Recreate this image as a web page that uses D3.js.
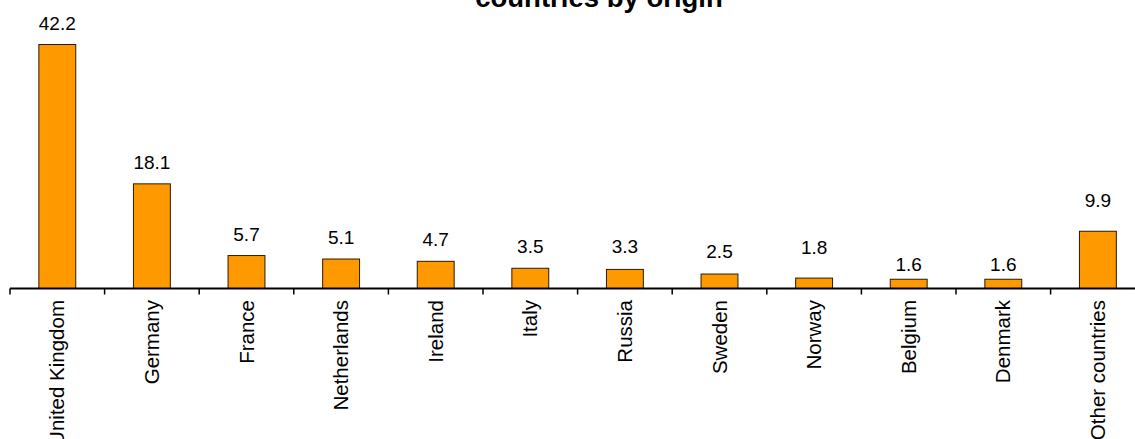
<!DOCTYPE html>
<html>
<head>
<meta charset="utf-8">
<script src="https://cdn.jsdelivr.net/npm/d3@7"></script>
<style>
  body { margin: 0; background: #fff; }
  svg { display: block; font-family: "Liberation Sans", Arial, sans-serif; }
</style>
</head>
<body>
<div id="content"></div>
<script>
// chart values
const countries = ["United Kingdom", "Germany", "France", "Netherlands", "Ireland", "Italy",
  "Russia", "Sweden", "Norway", "Belgium", "Denmark", "Other countries"];
const shares = [42.2, 18.1, 5.7, 5.1, 4.7, 3.5, 3.3, 2.5, 1.8, 1.6, 1.6, 9.9];
const titleText = "countries by origin";

// how far each value label sits above its bar (px), as placed in the original
const labelLift = [15, 15, 15, 15, 15, 15, 16, 16, 24, 8, 8, 24];

const width = 1135;
const height = 439;
const axisY = 288.5;
const left = 10;
const step = 94.6;

const svg = d3.select("#content")
  .append("svg")
  .attr("width", width)
  .attr("height", height);

const x = d3.scaleBand()
  .domain(countries)
  .range([left, left + step * countries.length])
  .paddingInner(0.61)
  .paddingOuter(0.305);

const y = d3.scaleLinear()
  .domain([0, 42.2])
  .range([axisY, 44.5]);

// title (only its last line is inside the view, as in the original)
svg.append("text")
  .attr("x", 599)
  .attr("y", 6.5)
  .attr("text-anchor", "middle")
  .attr("font-size", "27.5px")
  .attr("font-weight", "bold")
  .attr("fill", "#000")
  .text(titleText);

// bars
svg.selectAll("rect.bar")
  .data(shares)
  .enter()
  .append("rect")
  .attr("class", "bar")
  .attr("x", (d, i) => x(countries[i]))
  .attr("y", d => y(d))
  .attr("width", x.bandwidth())
  .attr("height", d => axisY - y(d))
  .attr("fill", "#FF9900")
  .attr("stroke", "#2a1a00")
  .attr("stroke-width", 1);

// value labels
svg.selectAll("text.label")
  .data(shares)
  .enter()
  .append("text")
  .attr("class", "label")
  .attr("x", (d, i) => x(countries[i]) + x.bandwidth() / 2)
  .attr("y", (d, i) => y(d) - labelLift[i])
  .attr("text-anchor", "middle")
  .attr("font-size", "19px")
  .attr("fill", "#000")
  .text(d => d.toFixed(1));

// x axis line + ticks at the band edges
const gap = (x.step() - x.bandwidth()) / 2;
svg.append("line")
  .attr("x1", left)
  .attr("x2", width + 20)
  .attr("y1", axisY)
  .attr("y2", axisY)
  .attr("stroke", "#000")
  .attr("stroke-width", 2);

svg.selectAll("line.tick")
  .data(countries)
  .enter()
  .append("line")
  .attr("class", "tick")
  .attr("x1", d => x(d) - gap)
  .attr("x2", d => x(d) - gap)
  .attr("y1", axisY)
  .attr("y2", axisY + 6)
  .attr("stroke", "#000")
  .attr("stroke-width", 1.5);

// category labels, rotated
svg.selectAll("text.cat")
  .data(countries)
  .enter()
  .append("text")
  .attr("class", "cat")
  .attr("transform", d => `translate(${x(d) + x.bandwidth() / 2},300) rotate(-90)`)
  .attr("text-anchor", "end")
  .attr("dy", "0.35em")
  .attr("font-size", "20.5px")
  .attr("fill", "#000")
  .text(d => d);
</script>
</body>
</html>
